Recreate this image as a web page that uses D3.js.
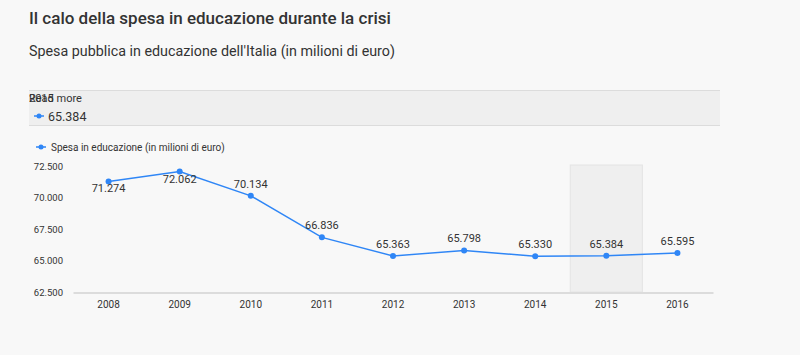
<!DOCTYPE html>
<html><head><meta charset="utf-8">
<script src="https://cdn.jsdelivr.net/npm/d3@7"></script>
<style>
html,body{margin:0;padding:0;background:#f8f8f8;}
svg{display:block;font-family:Roboto, "Noto Sans", sans-serif;}
</style></head>
<body>
<svg id="c" width="800" height="355"></svg>
<script>
const title = "Il calo della spesa in educazione durante la crisi";
const subtitle = "Spesa pubblica in educazione dell'Italia (in milioni di euro)";
const seriesName = "Spesa in educazione (in milioni di euro)";
const years = ["2008","2009","2010","2011","2012","2013","2014","2015","2016"];
const values = [71274, 72062, 70134, 66836, 65363, 65798, 65330, 65384, 65595];
const yTicks = [62500, 65000, 67500, 70000, 72500];
const highlightYear = "2015";
const readMore = "Read more";

const fmt = v => d3.format(",")(v).replace(/,/g, ".");

const svg = d3.select("#c");
const blue = "#2f86f6";
const textCol = "#333";

svg.append("rect").attr("width",800).attr("height",355).attr("fill","#f8f8f8");

svg.append("text").attr("x",29).attr("y",24).attr("font-size",17).attr("font-weight",500)
  .attr("fill",textCol).text(title);
svg.append("text").attr("x",29).attr("y",56).attr("font-size",14.3)
  .attr("fill",textCol).text(subtitle);

// tooltip-like bar
const hi = years.indexOf(highlightYear);
svg.append("rect").attr("x",29).attr("y",90).attr("width",691).attr("height",35).attr("fill","#efefef");
svg.append("line").attr("x1",29).attr("x2",720).attr("y1",90.5).attr("y2",90.5).attr("stroke","#dcdcdc");
svg.append("line").attr("x1",29).attr("x2",720).attr("y1",125.5).attr("y2",125.5).attr("stroke","#dcdcdc");
svg.append("text").attr("x",29).attr("y",102).attr("font-size",11).attr("fill",textCol).text(highlightYear);
svg.append("text").attr("x",29).attr("y",102).attr("font-size",11).attr("fill",textCol).text(readMore);
svg.append("line").attr("x1",34).attr("x2",44).attr("y1",116).attr("y2",116).attr("stroke",blue).attr("stroke-width",1.5);
svg.append("circle").attr("cx",39).attr("cy",116).attr("r",2.5).attr("fill",blue);
svg.append("text").attr("x",48).attr("y",120.5).attr("font-size",12.5).attr("fill",textCol).text(fmt(values[hi]));

// legend
svg.append("line").attr("x1",36).attr("x2",46).attr("y1",147).attr("y2",147).attr("stroke",blue).attr("stroke-width",1.5);
svg.append("circle").attr("cx",41).attr("cy",147).attr("r",2.5).attr("fill",blue);
svg.append("text").attr("x",51).attr("y",150.5).attr("font-size",10).attr("fill",textCol).text(seriesName);

// scales
const x = d3.scaleBand().domain(years).range([73, 713]);
const y = d3.scaleLinear().domain([62500, 72500]).range([292, 166]);

// highlight band
svg.append("rect").attr("x",x(highlightYear)-0.5).attr("y",165).attr("width",x.bandwidth()+1)
  .attr("height",292-165).attr("fill","#efefef").attr("stroke","#e4e4e4");

// y axis
const yAxis = svg.append("g").attr("transform","translate(63,0)")
  .call(d3.axisLeft(y).tickValues(yTicks).tickSize(0).tickPadding(0).tickFormat(fmt));
yAxis.select(".domain").remove();
yAxis.selectAll("text").attr("font-size",9.5).attr("fill",textCol).attr("font-family","Roboto, sans-serif");

// x axis
const xAxis = svg.append("g").attr("transform","translate(0,292.5)")
  .call(d3.axisBottom(x).tickSize(0).tickPadding(8));
xAxis.select(".domain").attr("stroke","#dcdcdc").attr("stroke-width",2);
xAxis.selectAll("text").attr("font-size",10).attr("fill",textCol).attr("font-family","Roboto, sans-serif");

// line
const cx = d => x(d) + x.bandwidth()/2;
const pts = years.map((yr,i)=>({yr, v: values[i]}));
svg.append("path").datum(pts)
  .attr("d", d3.line().x(d=>cx(d.yr)).y(d=>y(d.v)))
  .attr("fill","none").attr("stroke",blue).attr("stroke-width",1.5);
svg.selectAll("circle.pt").data(pts).enter().append("circle").attr("class","pt")
  .attr("cx",d=>cx(d.yr)).attr("cy",d=>y(d.v)).attr("r",3).attr("fill",blue);
svg.selectAll("text.lbl").data(pts).enter().append("text").attr("class","lbl")
  .attr("x",d=>cx(d.yr))
  .attr("y",d=> y(d.v) - 8 < 178 ? y(d.v) + 11 : y(d.v) - 8)
  .attr("text-anchor","middle").attr("font-size",11).attr("fill",textCol)
  .text(d=>fmt(d.v));
</script>
</body></html>
